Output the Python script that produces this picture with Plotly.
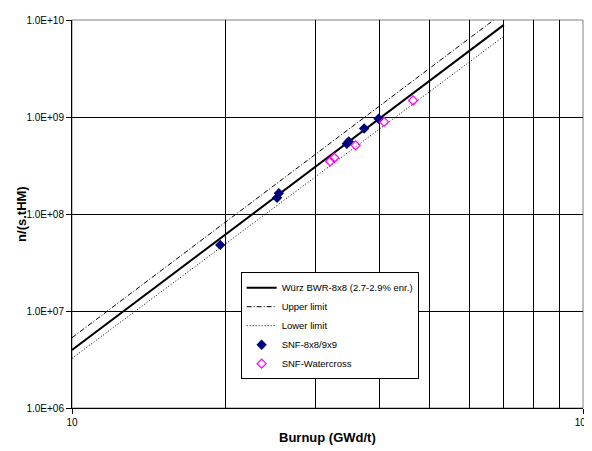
import plotly.graph_objects as go

# Reference line (Würz BWR-8x8) and limits: endpoints in burnup / neutron source
line_x = [10, 70]
wurz_y = [3.96e6, 8.9e9]
upper_y = [5.3e6, 1.2e10]
lower_y = [3.25e6, 6.8e9]

# SNF-8x8/9x9 measurements
snf_x = [19.5, 25.2, 25.4, 34.5, 34.8, 37.3, 39.8]
snf_y = [4.8e7, 1.47e8, 1.64e8, 5.3e8, 5.6e8, 7.6e8, 9.6e8]

# SNF-Watercross measurements
wc_x = [32.0, 32.6, 35.9, 40.8, 46.5]
wc_y = [3.48e8, 3.8e8, 5.1e8, 8.9e8, 1.48e9]

x_ticks = [10, 100]
x_minor = [20, 30, 40, 50, 60, 70, 80, 90]
y_ticks = [1e6, 1e7, 1e8, 1e9, 1e10]
y_ticktext = ["1.0E+06", "1.0E+07", "1.0E+08", "1.0E+09", "1.0E+10"]

FONT = "Liberation Sans, Arial, sans-serif"

fig = go.Figure()
fig.add_trace(go.Scatter(x=line_x, y=wurz_y, mode="lines",
                         name="Würz BWR-8x8 (2.7-2.9% enr.)",
                         line=dict(color="black", width=2)))
fig.add_trace(go.Scatter(x=line_x, y=upper_y, mode="lines", name="Upper limit",
                         line=dict(color="black", width=1, dash="5px,2px,1px,2px")))
fig.add_trace(go.Scatter(x=line_x, y=lower_y, mode="lines", name="Lower limit",
                         line=dict(color="black", width=1, dash="1px,2px")))
fig.add_trace(go.Scatter(x=snf_x, y=snf_y, mode="markers", name="SNF-8x8/9x9",
                         marker=dict(symbol="diamond", size=8, color="#000080",
                                     line=dict(width=0))))
fig.add_trace(go.Scatter(x=wc_x, y=wc_y, mode="markers", name="SNF-Watercross",
                         marker=dict(symbol="diamond-open", size=7, color="#FF00FF",
                                     line=dict(width=1.2, color="#FF00FF"))))

# the page body has an 8px margin, so the figure is 8px smaller and margins shifted
fig.update_layout(
    width=584, height=443,
    margin=dict(l=64, r=9, t=12, b=43),
    paper_bgcolor="white", plot_bgcolor="white",
    font=dict(family=FONT, size=10, color="black"),
    showlegend=True,
    legend=dict(x=0.33, y=0.35, xanchor="left", yanchor="top",
                bgcolor="white", bordercolor="black", borderwidth=1,
                font=dict(family=FONT, size=9.5), tracegroupgap=0,
                itemwidth=30),
    shapes=[dict(type="rect", xref="paper", yref="paper", x0=0, x1=1, y0=0, y1=1,
                 line=dict(color="#808080", width=1), layer="below")],
    annotations=[
        dict(text="<b>Burnup (GWd/t)</b>", xref="paper", yref="paper",
             x=0.5, y=-0.075, xanchor="center", yanchor="middle",
             showarrow=False, font=dict(family=FONT, size=13)),
        dict(text="<b>n/(s.tHM)</b>", xref="paper", yref="paper",
             x=-0.1, y=0.5, xanchor="center", yanchor="middle", textangle=-90,
             showarrow=False, font=dict(family=FONT, size=13)),
    ],
)

fig.update_xaxes(
    type="log", range=[1, 2], automargin=False,
    tickvals=x_ticks, ticktext=["10", "100"],
    ticks="outside", ticklen=5, tickcolor="black",
    showline=True, linecolor="black", linewidth=1,
    showgrid=False, zeroline=False,
    minor=dict(tickvals=x_minor, showgrid=True, gridcolor="black", gridwidth=1, ticks=""),
    tickfont=dict(family=FONT, size=10),
)
fig.update_yaxes(
    type="log", range=[6, 10], automargin=False,
    tickvals=y_ticks, ticktext=y_ticktext,
    ticks="outside", ticklen=5, tickcolor="black",
    showline=True, linecolor="black", linewidth=1,
    showgrid=True, gridcolor="black", gridwidth=1, zeroline=False,
    tickfont=dict(family=FONT, size=10),
)

fig.write_html("out.html")
